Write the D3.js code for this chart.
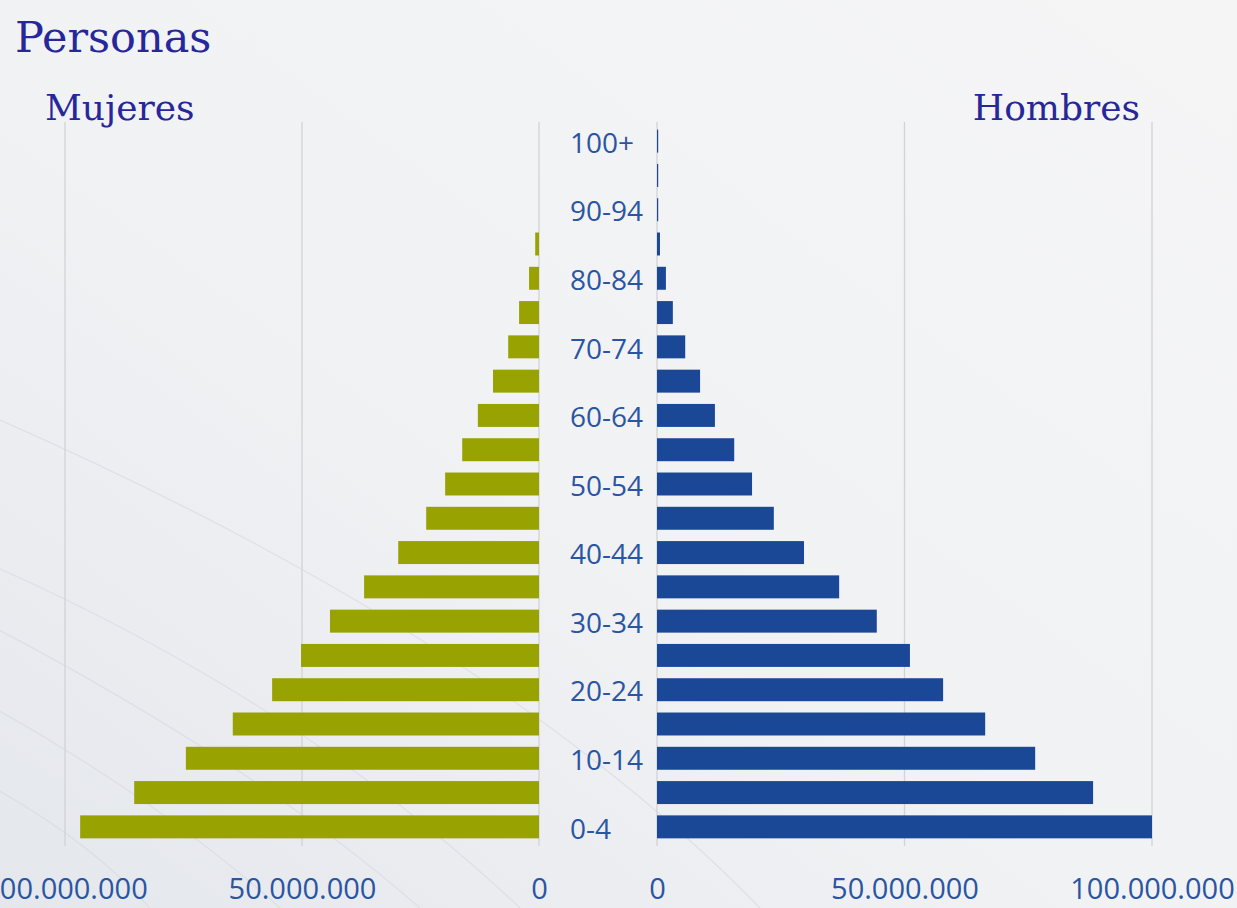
<!DOCTYPE html>
<html>
<head>
<meta charset="utf-8">
<script src="https://cdn.jsdelivr.net/npm/d3@7"></script>
<style>
  html, body { margin: 0; padding: 0; overflow: hidden; }
  body { width: 1237px; height: 908px; }
</style>
</head>
<body>
<div id="chart"></div>
<script>
const ageGroups = [
  "0-4", "5-9", "10-14", "15-19", "20-24", "25-29", "30-34", "35-39",
  "40-44", "45-49", "50-54", "55-59", "60-64", "65-69", "70-74", "75-79",
  "80-84", "85-89", "90-94", "95-99", "100+",
];
const labelledGroups = ["0-4", "10-14", "20-24", "30-34", "40-44", "50-54",
  "60-64", "70-74", "80-84", "90-94", "100+"];

// millions of people
const mujeres = [96.8, 85.4, 74.5, 64.6, 56.3, 50.2, 44.1, 36.9, 29.7, 23.8,
  19.8, 16.2, 12.9, 9.7, 6.5, 4.2, 2.1, 0.8, 0.0, 0.0, 0.0];
const hombres = [100.0, 88.1, 76.4, 66.3, 57.8, 51.1, 44.4, 36.8, 29.7, 23.6,
  19.2, 15.6, 11.7, 8.7, 5.7, 3.2, 1.8, 0.6, 0.2, 0.15, 0.1];
const tickValues = [0, 50e6, 100e6];

const width = 1237;
const height = 908;

const svg = d3
  .select("#chart")
  .append("svg")
  .attr("width", width)
  .attr("height", height);

// --- background ---
const defs = svg.append("defs");
const bg = defs
  .append("linearGradient")
  .attr("id", "bg")
  .attr("x1", "0%").attr("y1", "100%")
  .attr("x2", "100%").attr("y2", "0%");
bg.append("stop").attr("offset", "0%").attr("stop-color", "#e4e7ec");
bg.append("stop").attr("offset", "45%").attr("stop-color", "#f1f2f4");
bg.append("stop").attr("offset", "100%").attr("stop-color", "#f5f5f6");

svg.append("rect").attr("width", width).attr("height", height).attr("fill", "url(#bg)");

// faint swooshes in the backdrop
const swooshes = [
  [[-20, 560], [300, 700], [520, 908]],
  [[-20, 620], [250, 760], [420, 908]],
  [[-20, 700], [160, 800], [280, 908]],
  [[-20, 780], [90, 840], [150, 908]],
  [[0, 420], [500, 640], [760, 908]],
];
svg
  .append("g")
  .selectAll("path")
  .data(swooshes)
  .enter()
  .append("path")
  .attr("d", (d) => `M${d[0]}Q${d[1]} ${d[2]}`)
  .attr("fill", "none")
  .attr("stroke", "#d9dce2")
  .attr("stroke-opacity", 0.8)
  .attr("stroke-width", 1.2);

// --- scales ---
const xLeft = d3.scaleLinear().domain([0, 100e6]).range([539, 65]);
const xRight = d3.scaleLinear().domain([0, 100e6]).range([657, 1152]);
const y = d3
  .scaleBand()
  .domain(ageGroups.slice().reverse())
  .range([124, 844])
  .paddingInner(0.33)
  .paddingOuter(0.165);

const gridTop = 122;
const gridBottom = 846;

// gridlines
const grid = svg.append("g").attr("stroke", "#d2d3d6").attr("stroke-width", 1.3);
grid
  .selectAll(".gl")
  .data(tickValues)
  .enter()
  .append("line")
  .attr("x1", (d) => xLeft(d)).attr("x2", (d) => xLeft(d))
  .attr("y1", gridTop).attr("y2", gridBottom);
grid
  .selectAll(".gr")
  .data(tickValues)
  .enter()
  .append("line")
  .attr("x1", (d) => xRight(d)).attr("x2", (d) => xRight(d))
  .attr("y1", gridTop).attr("y2", gridBottom);

// --- bars ---
const rows = ageGroups.map((g, i) => ({ group: g, m: mujeres[i] * 1e6, h: hombres[i] * 1e6 }));

svg
  .append("g")
  .selectAll("rect")
  .data(rows.filter((d) => d.m > 0))
  .enter()
  .append("rect")
  .attr("x", (d) => xLeft(d.m))
  .attr("y", (d) => y(d.group))
  .attr("width", (d) => xLeft(0) - xLeft(d.m))
  .attr("height", y.bandwidth())
  .attr("fill", "#98a200");

svg
  .append("g")
  .selectAll("rect")
  .data(rows)
  .enter()
  .append("rect")
  .attr("x", xRight(0))
  .attr("y", (d) => y(d.group))
  .attr("width", (d) => Math.max(1.2, xRight(d.h) - xRight(0)))
  .attr("height", y.bandwidth())
  .attr("fill", "#1b4896");

// --- age labels ---
svg
  .append("g")
  .selectAll("text")
  .data(labelledGroups)
  .enter()
  .append("text")
  .attr("x", 570)
  .attr("y", (d) => y(d) + y.bandwidth() / 2)
  .attr("dy", "0.42em")
  .attr("font-family", "'Open Sans', sans-serif")
  .attr("font-size", 28)
  .attr("fill", "#2a55a3")
  .text((d) => d);

// --- x axes ---
const locale = d3.formatLocale({ decimal: ",", thousands: ".", grouping: [3], currency: ["", ""] });
const fmt = locale.format(",.0f");

function styleAxis(g) {
  g.select(".domain").remove();
  g.selectAll("line").remove();
  g.selectAll("text")
    .attr("font-family", "'Open Sans', sans-serif")
    .attr("font-size", 29)
    .attr("fill", "#2a55a3");
}

svg
  .append("g")
  .attr("transform", "translate(0,872)")
  .call(d3.axisBottom(xLeft).tickValues(tickValues).tickFormat(fmt).tickSize(0).tickPadding(6))
  .call(styleAxis);

svg
  .append("g")
  .attr("transform", "translate(0,872)")
  .call(d3.axisBottom(xRight).tickValues(tickValues).tickFormat(fmt).tickSize(0).tickPadding(6))
  .call(styleAxis);

// --- titles ---
const titleFont = "'DejaVu Serif', 'Liberation Serif', serif";
svg.append("text")
  .attr("x", 15).attr("y", 52)
  .attr("font-family", titleFont).attr("font-size", 43)
  .attr("fill", "#27279c")
  .text("Personas");

svg.append("text")
  .attr("x", 45).attr("y", 120)
  .attr("font-family", titleFont).attr("font-size", 36)
  .attr("fill", "#27279c")
  .text("Mujeres");

svg.append("text")
  .attr("x", 1140).attr("y", 120)
  .attr("text-anchor", "end")
  .attr("font-family", titleFont).attr("font-size", 36)
  .attr("fill", "#27279c")
  .text("Hombres");
</script>
</body>
</html>
